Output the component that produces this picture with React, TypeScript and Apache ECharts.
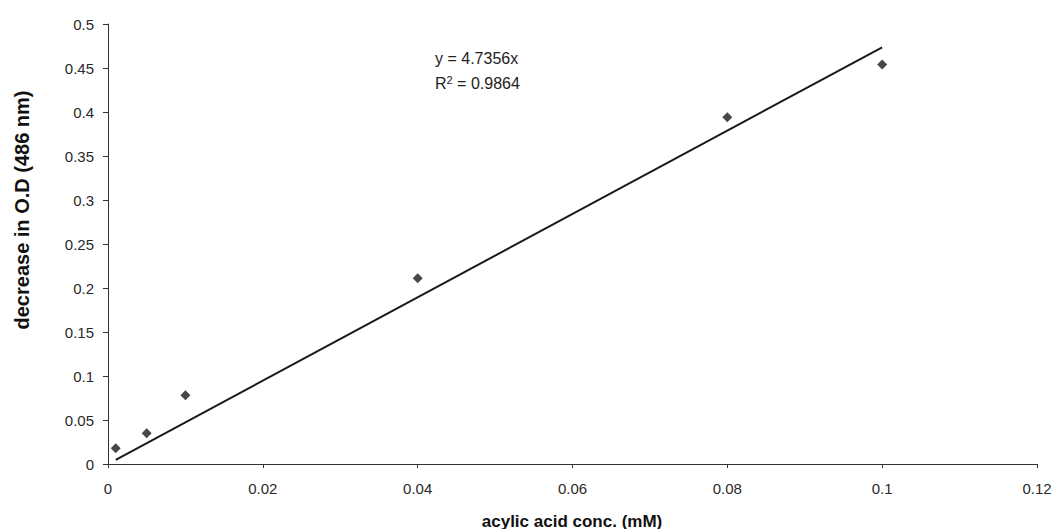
import React, { useEffect, useRef } from "react";
import * as echarts from "echarts";

const concentrations = [0.001, 0.005, 0.01, 0.04, 0.08, 0.1];
const decreaseOD = [0.018, 0.035, 0.078, 0.211, 0.394, 0.454];
const slope = 4.7356;
const rSquared = "0.9864";
const trendX = [0.001, 0.1];

export default function App() {
  const ref = useRef<HTMLDivElement>(null);
  useEffect(() => {
    if (!ref.current) return;
    const chart = echarts.init(ref.current, null, { renderer: "svg" });
    const font = "Arial, 'Liberation Sans', sans-serif";
    chart.setOption({
      animation: false,
      backgroundColor: "#ffffff",
      grid: { left: 108, right: 25, top: 24, bottom: 65 },
      xAxis: {
        type: "value",
        min: 0,
        max: 0.12,
        interval: 0.02,
        splitLine: { show: false },
        axisLine: { lineStyle: { color: "#333", width: 1 } },
        axisTick: { show: true, length: 4, lineStyle: { color: "#333" } },
        axisLabel: { color: "#2a2a2a", fontSize: 15, fontFamily: font, margin: 17 },
      },
      yAxis: {
        type: "value",
        min: 0,
        max: 0.5,
        interval: 0.05,
        splitLine: { show: false },
        axisLine: { show: true, lineStyle: { color: "#333", width: 1 } },
        axisTick: { show: true, length: 5, lineStyle: { color: "#333" } },
        axisLabel: { color: "#2a2a2a", fontSize: 15, fontFamily: font, margin: 14 },
      },
      graphic: [
        {
          type: "text",
          x: 22,
          y: 210,
          rotation: Math.PI / 2,
          style: {
            text: "decrease in O.D (486 nm)",
            fill: "#111",
            font: "bold 20px 'Liberation Sans Narrow', 'Arial Narrow', sans-serif",
            align: "center",
            verticalAlign: "middle",
          },
        },
        {
          type: "text",
          x: 572,
          y: 521,
          style: {
            text: "acylic acid conc. (mM)",
            fill: "#111",
            font: "bold 17px " + font,
            align: "center",
            verticalAlign: "middle",
          },
        },
        {
          type: "text",
          x: 435,
          y: 58,
          style: {
            text: "y = " + slope + "x",
            fill: "#222",
            font: "16px " + font,
            verticalAlign: "middle",
          },
        },
        {
          type: "text",
          x: 435,
          y: 83,
          style: {
            rich: { sup: { fontSize: 11, verticalAlign: "top", padding: [0, 0, 7, 0], fill: "#222", fontFamily: font } },
            text: "R{sup|2} = " + rSquared,
            fill: "#222",
            font: "16px " + font,
            verticalAlign: "middle",
          },
        },
      ],
      series: [
        {
          type: "line",
          data: trendX.map((x) => [x, slope * x]),
          showSymbol: false,
          symbol: "none",
          lineStyle: { color: "#1a1a1a", width: 2 },
          silent: true,
          z: 2,
        },
        {
          type: "scatter",
          data: concentrations.map((x, i) => [x, decreaseOD[i]]),
          symbol: "diamond",
          symbolSize: [10, 10],
          itemStyle: { color: "#1a1a1a" },
          z: 3,
        },
      ],
    });
    return () => chart.dispose();
  }, []);
  return <div ref={ref} style={{ width: 1062, height: 529, position: "absolute", left: 0, top: 0 }} />;
}
